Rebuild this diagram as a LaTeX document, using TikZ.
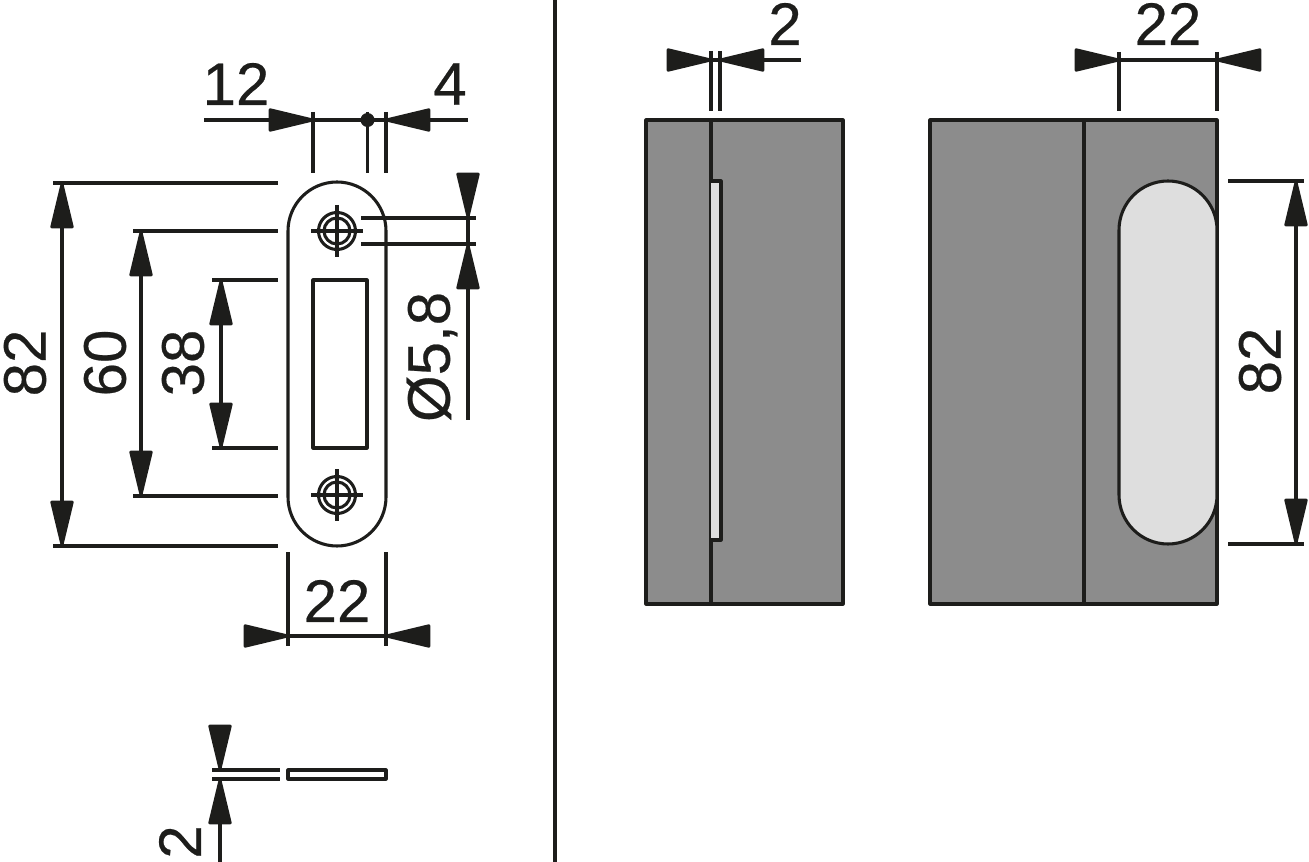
\documentclass[tikz,border=0pt]{standalone}
\usepackage{fontspec}
\setmainfont{Liberation Sans}
\newfontfamily\dimfont[FakeBold=0.4]{Liberation Sans}
\usetikzlibrary{arrows.meta}
\definecolor{ink}{HTML}{1D1D1B}
\definecolor{bodygray}{HTML}{8C8C8C}
\definecolor{lightgray}{HTML}{DEDEDE}
\tikzset{
  px/.style={x=0.75pt,y=-0.75pt},
  thin line/.style={draw=ink,line width=2.3pt},
  part/.style={draw=ink,line width=2.3pt,line join=round},
  tipend/.style={-{Triangle[length=38pt,width=17.5pt,round]}},
  dimtext/.style={text=ink,inner sep=0pt,font=\dimfont\fontsize{45}{45}\selectfont},
  dimside/.style={dimtext,rotate=90},
}
\begin{document}
\begin{tikzpicture}[px]
\useasboundingbox (0,0) rectangle (1309,862);
% divider
\draw[thin line] (555,0) -- (555,862);

% plate, front view
\draw[part] (337,182) arc[start angle=-90,end angle=0,radius=49] -- (386,497) arc[start angle=0,end angle=180,radius=49] -- (288,231) arc[start angle=180,end angle=270,radius=49] -- cycle;
\draw[part] (313,280) rectangle (367,448);
\foreach \cy in {231,495}{
  \draw[thin line] (337,\cy) circle[radius=18.5];
  \draw[thin line] (337,\cy) circle[radius=13];
  \draw[thin line] (311,\cy) -- (363,\cy);
  \draw[thin line] (337,\cy-26) -- (337,\cy+26);
}
% plate, edge view
\draw[part] (288,770) rectangle (386,779);

% dim 12 / 4
\draw[thin line] (313,112) -- (313,173);
\draw[thin line] (367.5,112) -- (367.5,173);
\draw[thin line] (386,112) -- (386,173);
\draw[thin line] (313,120) -- (386,120);
\fill[ink] (367.5,120) circle[radius=7];
\draw[thin line,tipend] (204,120) -- (314,120);
\draw[thin line,tipend] (468,120) -- (385,120);
\node[dimtext] (t12) at (236,84) {12};
\node[dimtext] (t4) at (450,84) {4};

% dim 82 left
\draw[thin line] (53,183) -- (278,183);
\draw[thin line] (53,546) -- (278,546);
\draw[thin line,tipend] (62,364) -- (62,183);
\draw[thin line,tipend] (62,364) -- (62,546);
\node[dimside] (t82l) at (25,363) {82};

% dim 60
\draw[thin line] (133,231) -- (278,231);
\draw[thin line] (133,496) -- (278,496);
\draw[thin line,tipend] (141,364) -- (141,231);
\draw[thin line,tipend] (141,364) -- (141,496);
\node[dimside] (t60) at (105,363) {60};

% dim 38
\draw[thin line] (212,280) -- (278,280);
\draw[thin line] (212,448) -- (278,448);
\draw[thin line,tipend] (221,364) -- (221,280);
\draw[thin line,tipend] (221,364) -- (221,448);
\node[dimside] (t38) at (183,363) {38};

% dim dia 5,8
\draw[thin line] (361,218) -- (476,218);
\draw[thin line] (361,244) -- (476,244);
\draw[thin line] (468,218) -- (468,244);
\draw[thin line,tipend] (468,180) -- (468,218);
\draw[thin line,tipend] (468,420) -- (468,244);
\node[dimside] (t58) at (432,357) {Ø5,8};

% dim 22 bottom
\draw[thin line] (288,552) -- (288,646);
\draw[thin line] (386,552) -- (386,646);
\draw[thin line] (288,636) -- (386,636);
\draw[thin line,tipend] (250,636) -- (289,636);
\draw[thin line,tipend] (425,636) -- (385,636);
\node[dimtext] (t22b) at (337,601) {22};

% dim 2 edge view
\draw[thin line] (212,770) -- (280,770);
\draw[thin line] (212,779) -- (280,779);
\draw[thin line,tipend] (220,730) -- (220,770);
\draw[thin line,tipend] (220,862) -- (220,779);
\node[dimside] (t2e) at (180,842) {2};

% right: body side view
\draw[part,fill=bodygray] (646,120) rectangle (843,604);
\draw[part] (711,120) -- (711,604);
\draw[part,fill=lightgray] (711,181) -- (721,181) -- (721,540) -- (711,540);
\draw[thin line] (711,51) -- (711,111);
\draw[thin line] (720,51) -- (720,111);
\draw[thin line] (711,60) -- (720,60);
\draw[thin line,tipend] (672,60) -- (712,60);
\draw[thin line,tipend] (801,60) -- (719,60);
\node[dimtext] (t2r) at (785,24) {2};

% right: body front view
\draw[part,fill=bodygray] (930,120) rectangle (1217,604);
\draw[part] (1084,120) -- (1084,604);
\draw[part,fill=lightgray] (1168,181) arc[start angle=-90,end angle=0,radius=49] -- (1217,495) arc[start angle=0,end angle=180,radius=49] -- (1119,230) arc[start angle=180,end angle=270,radius=49] -- cycle;
\draw[thin line] (1119,52) -- (1119,111);
\draw[thin line] (1217,52) -- (1217,111);
\draw[thin line] (1119,60) -- (1217,60);
\draw[thin line,tipend] (1080,60) -- (1120,60);
\draw[thin line,tipend] (1256,60) -- (1216,60);
\node[dimtext] (t22r) at (1168,24) {22};

% dim 82 right
\draw[thin line] (1228,181) -- (1304,181);
\draw[thin line] (1228,544) -- (1304,544);
\draw[thin line,tipend] (1296,362) -- (1296,181);
\draw[thin line,tipend] (1296,362) -- (1296,544);
\node[dimside] (t82r) at (1260,361) {82};
\end{tikzpicture}
\end{document}
